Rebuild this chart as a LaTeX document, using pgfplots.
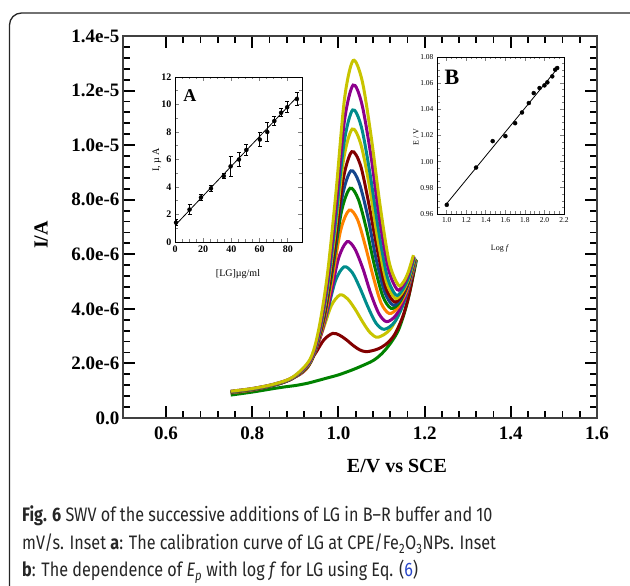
\documentclass[border=0pt]{standalone}
\usepackage{fontspec}
\setmainfont{Liberation Serif}
\newfontfamily\capfont[FakeStretch=0.83]{Fira Sans}
\usepackage{pgfplots}
\pgfplotsset{compat=1.18}

\definecolor{cyel}{RGB}{200,196,0}
\definecolor{cpur}{RGB}{140,0,140}
\definecolor{cteal}{RGB}{0,140,140}
\definecolor{cdred}{RGB}{130,0,0}
\definecolor{cblue}{RGB}{20,70,140}
\definecolor{cgreen}{RGB}{0,130,0}
\definecolor{corange}{RGB}{255,130,0}
\definecolor{capblue}{RGB}{40,70,200}

\pgfplotsset{
  swv/.style={smooth, line width=3pt},
}

\begin{document}
\begin{tikzpicture}[x=1pt,y=1pt]
\useasboundingbox (0,0) rectangle (630,586);
\draw[line width=1.3pt, rounded corners=12pt, black!85] (9.5,-20) rectangle (660,573);

% main SWV plot, current in microampere
\begin{axis}[
  at={(123pt,168pt)}, anchor=south west,
  scale only axis, width=474pt, height=382pt,
  xmin=0.5, xmax=1.6, ymin=0, ymax=14,
  xtick={0.6,0.8,1.0,1.2,1.4,1.6},
  xticklabels={0.6,0.8,1.0,1.2,1.4,1.6},
  ytick={0,2,4,6,8,10,12,14},
  yticklabels={0.0,2.0e-6,4.0e-6,6.0e-6,8.0e-6,1.0e-5,1.2e-5,1.4e-5},
  minor x tick num=4, minor y tick num=4,
  tick align=inside,
  major tick length=12pt, minor tick length=7pt,
  major tick style={line width=2pt, black},
  minor tick style={line width=1.8pt, black},
  axis line style={line width=1.2pt, black!75},
  tick label style={font=\fontsize{19}{19}\selectfont\bfseries},
  x tick label style={yshift=-5pt},
  xlabel={E/V vs SCE}, ylabel={I/A},
  label style={font=\fontsize{20}{20}\selectfont\bfseries},
  xlabel style={at={(axis description cs:0.578,-0.125)}, anchor=center},
  ylabel style={at={(axis description cs:-0.173,0.479)}, anchor=center},
]
\addplot[swv, cgreen] coordinates {(0.75,0.84) (0.80,0.95) (0.85,1.08) (0.88,1.15) (0.90,1.19) (0.93,1.28) (0.97,1.45) (1.00,1.58) (1.03,1.75) (1.05,1.88) (1.08,2.10) (1.10,2.35) (1.12,2.72) (1.14,3.25) (1.16,4.25) (1.181,5.79)};
\addplot[swv, cdred] coordinates {(0.75,0.92) (0.80,1.02) (0.8465,1.19) (0.8865,1.39) (0.9065,1.60) (0.9265,1.92) (0.9465,2.37) (0.9665,2.87) (0.9865,3.10) (1.002,3.04) (1.018,2.87) (1.034,2.66) (1.049,2.50) (1.065,2.43) (1.09,2.52) (1.11,2.70) (1.13,3.05) (1.15,3.75) (1.165,4.6) (1.180,5.80)};
\addplot[swv, cyel] coordinates {(0.75,0.93) (0.80,1.03) (0.8635,1.27) (0.9035,1.54) (0.9235,1.86) (0.9435,2.41) (0.9635,3.21) (0.9835,4.12) (1.0035,4.51) (1.021,4.37) (1.039,3.98) (1.057,3.50) (1.074,3.12) (1.092,2.96) (1.121,3.27) (1.151,4.21) (1.180,5.80)};
\addplot[swv, cteal] coordinates {(0.75,0.94) (0.80,1.04) (0.85,1.20) (0.873,1.32) (0.913,1.63) (0.933,2.04) (0.953,2.76) (0.973,3.82) (0.993,5.03) (1.013,5.54) (1.032,5.33) (1.050,4.76) (1.069,4.05) (1.087,3.48) (1.106,3.25) (1.131,3.53) (1.155,4.37) (1.180,5.80)};
\addplot[swv, cpur] coordinates {(0.75,0.94) (0.80,1.04) (0.85,1.20) (0.880,1.35) (0.920,1.71) (0.940,2.20) (0.960,3.07) (0.980,4.36) (1.000,5.84) (1.020,6.46) (1.038,6.20) (1.057,5.46) (1.075,4.56) (1.094,3.82) (1.112,3.53) (1.134,3.78) (1.157,4.53) (1.179,5.81)};
\addplot[swv, corange] coordinates {(0.75,0.95) (0.80,1.05) (0.85,1.21) (0.885,1.39) (0.925,1.79) (0.945,2.39) (0.965,3.45) (0.985,5.04) (1.005,6.87) (1.025,7.62) (1.044,7.28) (1.062,6.33) (1.081,5.16) (1.099,4.21) (1.118,3.83) (1.138,4.05) (1.159,4.71) (1.179,5.82)};
\addplot[swv, cgreen] coordinates {(0.75,0.95) (0.80,1.05) (0.85,1.21) (0.887,1.41) (0.927,1.85) (0.947,2.51) (0.967,3.71) (0.987,5.51) (1.007,7.57) (1.027,8.42) (1.046,8.02) (1.065,6.92) (1.084,5.56) (1.103,4.46) (1.122,4.02) (1.141,4.22) (1.159,4.82) (1.178,5.83)};
\addplot[swv, cblue] coordinates {(0.75,0.96) (0.80,1.06) (0.85,1.22) (0.889,1.42) (0.929,1.89) (0.949,2.61) (0.969,3.92) (0.989,5.88) (1.009,8.13) (1.029,9.06) (1.048,8.62) (1.068,7.39) (1.087,5.86) (1.107,4.63) (1.126,4.14) (1.143,4.33) (1.161,4.89) (1.178,5.84)};
\addplot[swv, cdred] coordinates {(0.75,0.96) (0.80,1.06) (0.85,1.22) (0.891,1.44) (0.931,1.94) (0.951,2.72) (0.971,4.14) (0.991,6.29) (1.011,8.75) (1.031,9.76) (1.051,9.27) (1.070,7.89) (1.090,6.19) (1.109,4.81) (1.129,4.26) (1.145,4.44) (1.161,4.96) (1.177,5.86)};
\addplot[swv, cyel] coordinates {(0.75,0.97) (0.80,1.07) (0.85,1.23) (0.892,1.46) (0.932,1.99) (0.952,2.85) (0.972,4.41) (0.992,6.77) (1.012,9.48) (1.032,10.59) (1.052,10.03) (1.072,8.48) (1.091,6.56) (1.111,5.01) (1.131,4.39) (1.146,4.55) (1.162,5.05) (1.177,5.88)};
\addplot[swv, cteal] coordinates {(0.75,0.97) (0.80,1.07) (0.85,1.23) (0.893,1.47) (0.933,2.04) (0.953,2.95) (0.973,4.64) (0.993,7.17) (1.013,10.09) (1.033,11.29) (1.053,10.68) (1.073,8.98) (1.093,6.88) (1.113,5.19) (1.133,4.51) (1.147,4.66) (1.162,5.12) (1.176,5.90)};
\addplot[swv, cpur] coordinates {(0.75,0.98) (0.80,1.08) (0.85,1.24) (0.894,1.49) (0.934,2.09) (0.954,3.09) (0.974,4.93) (0.994,7.70) (1.014,10.90) (1.034,12.2) (1.054,11.53) (1.075,9.65) (1.095,7.33) (1.116,5.46) (1.136,4.71) (1.149,4.84) (1.162,5.25) (1.175,5.93)};
\addplot[swv, cyel] coordinates {(0.75,0.98) (0.80,1.08) (0.85,1.24) (0.894,1.50) (0.934,2.15) (0.954,3.23) (0.974,5.22) (0.994,8.23) (1.014,11.69) (1.034,13.1) (1.055,12.36) (1.076,10.30) (1.097,7.75) (1.118,5.69) (1.139,4.87) (1.151,4.99) (1.162,5.35) (1.174,5.97)};
\end{axis}

% inset A: calibration curve
\begin{axis}[
  at={(175pt,344pt)}, anchor=south west,
  scale only axis, width=127pt, height=165pt,
  xmin=0, xmax=90, ymin=0, ymax=12,
  xtick={0,20,40,60,80}, xticklabels={0,20,40,60,80},
  ytick={0,2,4,6,8,10,12}, yticklabels={0,2,4,6,8,10,12},
  minor x tick num=3, minor y tick num=1,
  tick align=inside, major tick length=4pt, minor tick length=2.5pt,
  axis line style={line width=0.9pt}, major tick style={line width=0.8pt}, minor tick style={line width=0.6pt},
  tick label style={font=\fontsize{10}{10}\selectfont\bfseries},
  xlabel={[LG]µg/ml}, ylabel={I, µ A},
  label style={font=\fontsize{10}{10}\selectfont},
  xlabel style={at={(axis description cs:0.496,-0.194)}, anchor=center},
  ylabel style={at={(axis description cs:-0.142,0.497)}, anchor=center},
]
\addplot[black, line width=0.8pt] coordinates {(0,1.2) (87,10.6)};
\addplot[black, only marks, mark=*, mark size=2pt,
  error bars/.cd, y dir=both, y explicit,
  error bar style={line width=0.8pt},
  error mark options={rotate=90, mark size=2pt, line width=0.8pt}]
  coordinates {(0.7,1.41) +- (0,0.2) (10.3,2.36) +- (0,0.35) (18.4,3.24) +- (0,0.2) (25.5,3.9) +- (0,0.2) (34.6,4.8) +- (0,0.2) (39.4,5.5) +- (0,0.7) (45.3,6.0) +- (0,0.5) (50.6,6.7) +- (0,0.4) (60.1,7.45) +- (0,0.5) (65.4,8.0) +- (0,0.7) (70.4,8.8) +- (0,0.3) (75.2,9.4) +- (0,0.3) (79.5,9.8) +- (0,0.4) (86.4,10.4) +- (0,0.5)};
\node[font=\fontsize{18}{18}\selectfont\bfseries] at (axis description cs:0.118,0.885) {A};
\end{axis}

% inset B: Ep versus log f
\begin{axis}[
  at={(437pt,372pt)}, anchor=south west,
  scale only axis, width=127pt, height=157pt,
  xmin=0.9, xmax=2.2, ymin=0.96, ymax=1.08,
  xtick={1.0,1.2,1.4,1.6,1.8,2.0,2.2}, xticklabels={1.0,1.2,1.4,1.6,1.8,2.0,2.2},
  ytick={0.96,0.98,1.00,1.02,1.04,1.06,1.08}, yticklabels={0.96,0.98,1.00,1.02,1.04,1.06,1.08},
  minor x tick num=3, minor y tick num=3,
  tick align=inside, major tick length=4pt, minor tick length=2.5pt,
  axis line style={line width=0.9pt}, major tick style={line width=0.8pt}, minor tick style={line width=0.6pt},
  tick label style={font=\fontsize{7.5}{7.5}\selectfont},
  xlabel={Log \textit{f}}, ylabel={E / V},
  label style={font=\fontsize{8}{8}\selectfont},
  xlabel style={at={(axis description cs:0.496,-0.217)}, anchor=center},
  ylabel style={at={(axis description cs:-0.165,0.49)}, anchor=center},
]
\addplot[black, line width=0.8pt] coordinates {(1.0,0.968) (2.13,1.071)};
\addplot[black, only marks, mark=*, mark size=2pt] coordinates {(1.0,0.967) (1.30,0.9955) (1.47,1.0157) (1.60,1.0195) (1.70,1.0294) (1.77,1.0376) (1.84,1.0448) (1.89,1.0524) (1.95,1.0563) (2.0,1.0583) (2.03,1.0606) (2.08,1.0652) (2.11,1.0703) (2.13,1.0716)};
\node[font=\fontsize{22}{22}\selectfont\bfseries] at (axis description cs:0.118,0.873) {B};
\end{axis}

\begin{scope}[every node/.style={anchor=base west, inner sep=0pt, font=\capfont\fontsize{19.5}{19.5}\selectfont, text=black!85}]
\node at (22,64) {\textbf{Fig. 6} SWV of the successive additions of LG in B–R buffer and 10};
\node at (22,36) {mV/s. Inset \textbf{a}: The calibration curve of LG at CPE/Fe\textsubscript{2}O\textsubscript{3}NPs. Inset};
\node at (22,9) {\textbf{b}: The dependence of \textit{E}\textsubscript{\textit{p}} with log \textit{f} for LG using Eq. (\textcolor{capblue}{6})};
\end{scope}
\end{tikzpicture}
\end{document}
